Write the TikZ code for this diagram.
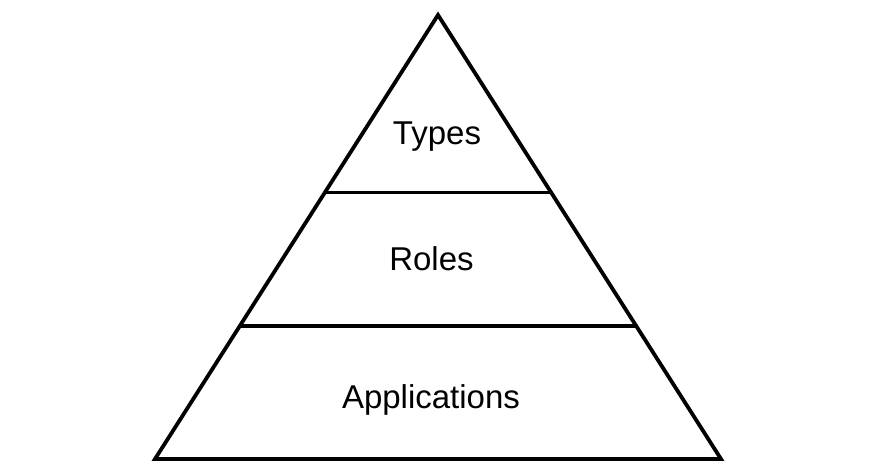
\documentclass[tikz,border=0pt]{standalone}
\usepackage{fontspec}
\setmainfont{Liberation Sans}
\begin{document}
\begin{tikzpicture}[x=1pt,y=-1pt,
  edge/.style={line width=3.8pt,black},
  label/.style={font=\fontsize{33}{36}\selectfont,anchor=base,inner sep=0pt}]
\useasboundingbox (0,0) rectangle (877,473);
\coordinate (apex) at (438,15);
\coordinate (bl) at (155,459);
\coordinate (br) at (721,459);
\path (apex) -- (bl) coordinate[pos=0.4] (a1) coordinate[pos=0.7] (a2);
\path (apex) -- (br) coordinate[pos=0.4] (b1) coordinate[pos=0.7] (b2);
\draw[edge,line join=miter] (apex) -- (bl) -- (br) -- cycle;
\draw[edge] (a1) -- (b1);
\draw[edge] (a2) -- (b2);
\node[label] (types) at (437,145) {Types};
\node[label] (roles) at (431.5,270) {Roles};
\node[label] (apps) at (431,408) {Applications};
\end{tikzpicture}
\end{document}
